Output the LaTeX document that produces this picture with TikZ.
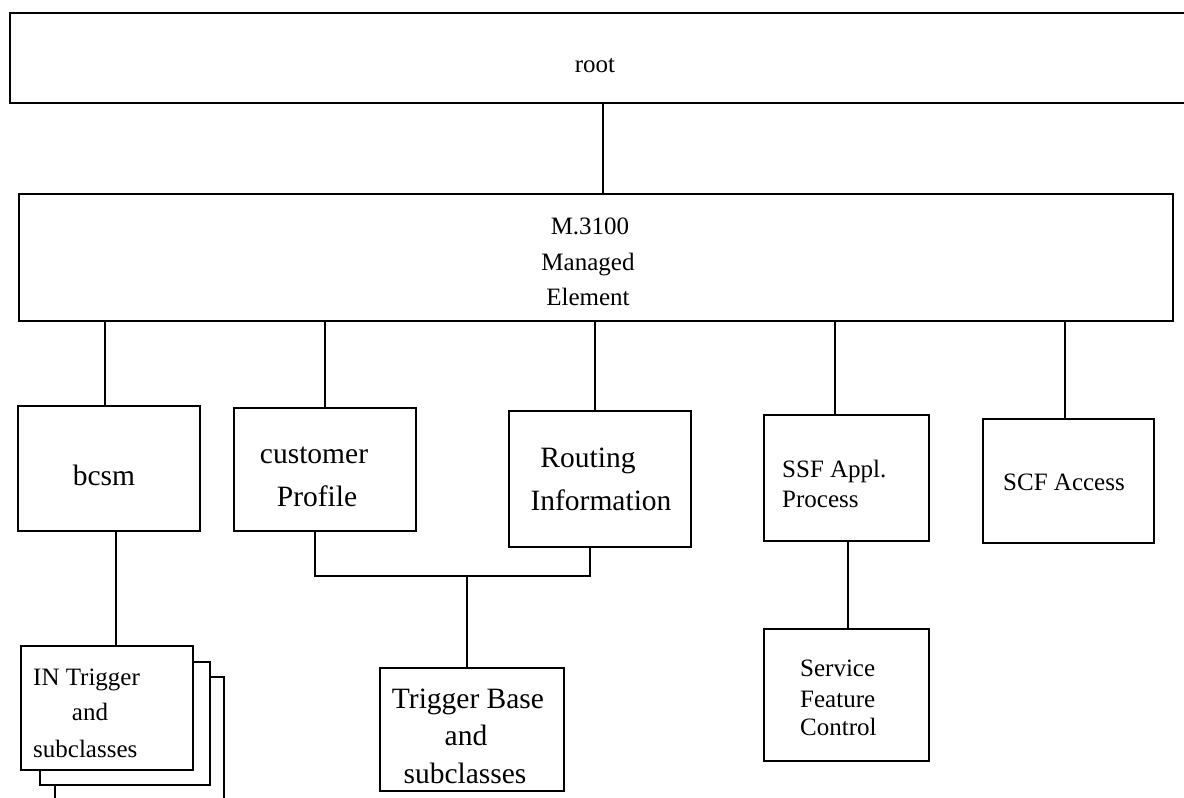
\documentclass[tikz,border=0pt]{standalone}
\usepackage{fontspec}
\setmainfont{Liberation Serif}
\begin{document}
\begin{tikzpicture}[x=1pt,y=-1pt,
  box/.style={draw=black,line width=1.5pt,fill=white,inner sep=0pt},
  sm/.style={font=\fontsize{25}{30}\selectfont,inner sep=0pt,anchor=base},
  lg/.style={font=\fontsize{29.5}{42}\selectfont,inner sep=0pt,anchor=base},
  smw/.style={font=\fontsize{25}{30}\selectfont,inner sep=0pt,anchor=base west},
  conn/.style={line width=1.5pt}]
\useasboundingbox (0,0) rectangle (1184,798);
\begin{scope}
\clip (0,0) rectangle (1184,798);
% root (right edge beyond picture)
\node[box,line width=2pt,minimum width=1200,minimum height=90,anchor=north west] (root) at (9,12) {};
\node[sm] (troot) at (595,72) {root};
% M.3100
\node[box,minimum width=1154,minimum height=127,anchor=north west] (me) at (18,193) {};
\node[sm] (t1) at (590,234) {M.3100};
\node[sm] (t2) at (588,270) {Managed};
\node[sm] (t3) at (588,305) {Element};
% second row
\node[box,minimum width=182,minimum height=125,anchor=north west] (bcsm) at (17,405) {};
\node[lg] (tb) at (104,485) {bcsm};
\node[box,minimum width=182,minimum height=123,anchor=north west] (cust) at (233,407) {};
\node[lg] (tc1) at (314,463) {customer};
\node[lg] (tc2) at (317,506) {Profile};
\node[box,minimum width=182,minimum height=136,anchor=north west] (rout) at (508,410) {};
\node[lg] (tr1) at (588,467) {Routing};
\node[lg] (tr2) at (601,510) {Information};
\node[box,minimum width=165,minimum height=126,anchor=north west] (ssf) at (763,414) {};
\node[smw] (ts1) at (782,477) {SSF Appl.};
\node[smw] (ts2) at (782,507) {Process};
\node[box,minimum width=171,minimum height=124,anchor=north west] (scf) at (982,418) {};
\node[sm] (tscf) at (1064,490) {SCF Access};
% IN Trigger stack
\node[box,minimum width=169,minimum height=140,anchor=north west] (in3) at (54,676) {};
\node[box,minimum width=170,minimum height=123,anchor=north west] (in2) at (39,661) {};
\node[box,minimum width=172,minimum height=124,anchor=north west] (in1) at (20,645) {};
\node[smw] (ti1) at (33,685) {IN Trigger};
\node[sm] (ti2) at (90,720) {and};
\node[smw] (ti3) at (33,757) {subclasses};
% Trigger Base
\node[box,minimum width=184,minimum height=123,anchor=north west] (tbase) at (379,667) {};
\node[lg] (tt1) at (468,708) {Trigger Base};
\node[lg] (tt2) at (466,745) {and};
\node[lg] (tt3) at (465,783) {subclasses};
% Service Feature Control
\node[box,minimum width=165,minimum height=132,anchor=north west] (sfc) at (763,628) {};
\node[smw] (tf1) at (800,676) {Service};
\node[smw] (tf2) at (800,707) {Feature};
\node[smw] (tf3) at (800,735) {Control};
% connectors
\coordinate (xr) at (603,0);
\coordinate (xa) at (105,0);
\coordinate (xb) at (325,0);
\coordinate (xc) at (595,0);
\coordinate (xd) at (835,0);
\coordinate (xe) at (1065,0);
\coordinate (xf) at (116,0);
\coordinate (xg) at (315,0);
\coordinate (xh) at (590,0);
\coordinate (xi) at (467,0);
\coordinate (xj) at (848,0);
\coordinate (yj) at (0,576);
\draw[conn] (root.south -| xr) -- (me.north -| xr);
\draw[conn] (me.south -| xa) -- (bcsm.north -| xa);
\draw[conn] (me.south -| xb) -- (cust.north -| xb);
\draw[conn] (me.south -| xc) -- (rout.north -| xc);
\draw[conn] (me.south -| xd) -- (ssf.north -| xd);
\draw[conn] (me.south -| xe) -- (scf.north -| xe);
\draw[conn] (bcsm.south -| xf) -- (in1.north -| xf);
\draw[conn] (cust.south -| xg) -- (yj -| xg) -- (yj -| xh) -- (rout.south -| xh);
\draw[conn] (yj -| xi) -- (tbase.north -| xi);
\draw[conn] (ssf.south -| xj) -- (sfc.north -| xj);
\end{scope}
\end{tikzpicture}
\end{document}
